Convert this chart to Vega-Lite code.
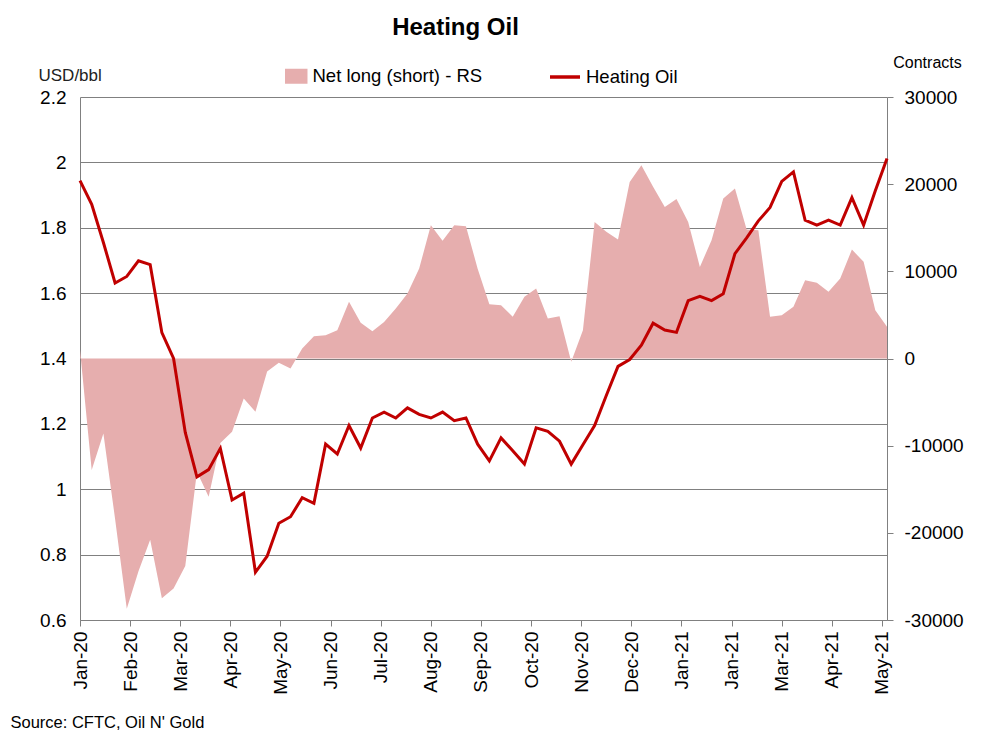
{
  "$schema": "https://vega.github.io/schema/vega-lite/v6.json",
  "width": 807,
  "height": 523,
  "autosize": {"type": "none"},
  "padding": {"left": 80, "top": 97, "right": 101, "bottom": 121},
  "background": "white",
  "config": {"view": {"stroke": null}, "font": "Liberation Sans"},
  "title": {"text": "Heating Oil", "fontSize": 24, "fontWeight": "bold", "font": "Liberation Sans", "color": "#000000", "anchor": "middle", "frame": "group", "dx": -28, "offset": 14},
  "data": {"values": [
    {"date": "2020-01-07", "price": 1.944, "net": 1000},
    {"date": "2020-01-14", "price": 1.872, "net": -12800},
    {"date": "2020-01-21", "price": 1.755, "net": -8600},
    {"date": "2020-01-28", "price": 1.631, "net": -18400},
    {"date": "2020-02-04", "price": 1.651, "net": -28700},
    {"date": "2020-02-11", "price": 1.699, "net": -24400},
    {"date": "2020-02-18", "price": 1.687, "net": -20800},
    {"date": "2020-02-25", "price": 1.479, "net": -27500},
    {"date": "2020-03-03", "price": 1.400, "net": -26400},
    {"date": "2020-03-10", "price": 1.174, "net": -23800},
    {"date": "2020-03-17", "price": 1.038, "net": -13000},
    {"date": "2020-03-24", "price": 1.060, "net": -15850},
    {"date": "2020-03-31", "price": 1.125, "net": -9700},
    {"date": "2020-04-07", "price": 0.967, "net": -8400},
    {"date": "2020-04-14", "price": 0.988, "net": -4600},
    {"date": "2020-04-21", "price": 0.746, "net": -6100},
    {"date": "2020-04-28", "price": 0.795, "net": -1500},
    {"date": "2020-05-05", "price": 0.896, "net": -500},
    {"date": "2020-05-12", "price": 0.916, "net": -1150},
    {"date": "2020-05-19", "price": 0.974, "net": 1150},
    {"date": "2020-05-26", "price": 0.957, "net": 2560},
    {"date": "2020-06-02", "price": 1.138, "net": 2680},
    {"date": "2020-06-09", "price": 1.108, "net": 3250},
    {"date": "2020-06-16", "price": 1.195, "net": 6500},
    {"date": "2020-06-23", "price": 1.126, "net": 4090},
    {"date": "2020-06-30", "price": 1.218, "net": 3130},
    {"date": "2020-07-07", "price": 1.236, "net": 4200},
    {"date": "2020-07-14", "price": 1.218, "net": 5730},
    {"date": "2020-07-21", "price": 1.249, "net": 7450},
    {"date": "2020-07-28", "price": 1.229, "net": 10320},
    {"date": "2020-08-04", "price": 1.218, "net": 15290},
    {"date": "2020-08-11", "price": 1.236, "net": 13500},
    {"date": "2020-08-18", "price": 1.210, "net": 15290},
    {"date": "2020-08-25", "price": 1.218, "net": 15180},
    {"date": "2020-09-01", "price": 1.138, "net": 10300},
    {"date": "2020-09-08", "price": 1.087, "net": 6230},
    {"date": "2020-09-15", "price": 1.157, "net": 6120},
    {"date": "2020-09-22", "price": 1.118, "net": 4780},
    {"date": "2020-09-29", "price": 1.077, "net": 7070},
    {"date": "2020-10-06", "price": 1.188, "net": 8030},
    {"date": "2020-10-13", "price": 1.177, "net": 4590},
    {"date": "2020-10-20", "price": 1.147, "net": 4860},
    {"date": "2020-10-27", "price": 1.077, "net": -380},
    {"date": "2020-11-03", "price": 1.136, "net": 3250},
    {"date": "2020-11-10", "price": 1.195, "net": 15670},
    {"date": "2020-11-17", "price": 1.287, "net": 14530},
    {"date": "2020-11-24", "price": 1.376, "net": 13650},
    {"date": "2020-12-01", "price": 1.397, "net": 20260},
    {"date": "2020-12-08", "price": 1.441, "net": 22170},
    {"date": "2020-12-15", "price": 1.508, "net": 19690},
    {"date": "2020-12-22", "price": 1.487, "net": 17390},
    {"date": "2020-12-29", "price": 1.480, "net": 18300},
    {"date": "2021-01-05", "price": 1.577, "net": 15670},
    {"date": "2021-01-12", "price": 1.590, "net": 10510},
    {"date": "2021-01-19", "price": 1.577, "net": 13570},
    {"date": "2021-01-26", "price": 1.598, "net": 18350},
    {"date": "2021-02-02", "price": 1.721, "net": 19500},
    {"date": "2021-02-09", "price": 1.769, "net": 14800},
    {"date": "2021-02-16", "price": 1.821, "net": 14720},
    {"date": "2021-02-23", "price": 1.862, "net": 4780},
    {"date": "2021-03-02", "price": 1.942, "net": 4970},
    {"date": "2021-03-09", "price": 1.971, "net": 5930},
    {"date": "2021-03-16", "price": 1.823, "net": 8980},
    {"date": "2021-03-23", "price": 1.808, "net": 8680},
    {"date": "2021-03-30", "price": 1.823, "net": 7650},
    {"date": "2021-04-06", "price": 1.808, "net": 9180},
    {"date": "2021-04-13", "price": 1.892, "net": 12500},
    {"date": "2021-04-20", "price": 1.808, "net": 11090},
    {"date": "2021-04-27", "price": 1.913, "net": 5540},
    {"date": "2021-05-04", "price": 2.012, "net": 3630}
  ]},
  "layer": [
    {
      "mark": {"type": "area", "interpolate": "linear"},
      "encoding": {
        "x": {
          "field": "date", "type": "temporal",
          "scale": {"type": "utc", "domain": [{"year": 2020, "month": 1, "date": 7, "utc": true}, {"year": 2021, "month": 5, "date": 4, "utc": true}]},
          "axis": {
            "values": [
              {"year": 2020, "month": 1, "date": 7, "utc": true},
              {"year": 2020, "month": 2, "date": 6, "utc": true},
              {"year": 2020, "month": 3, "date": 7, "utc": true},
              {"year": 2020, "month": 4, "date": 6, "utc": true},
              {"year": 2020, "month": 5, "date": 6, "utc": true},
              {"year": 2020, "month": 6, "date": 5, "utc": true},
              {"year": 2020, "month": 7, "date": 5, "utc": true},
              {"year": 2020, "month": 8, "date": 4, "utc": true},
              {"year": 2020, "month": 9, "date": 3, "utc": true},
              {"year": 2020, "month": 10, "date": 3, "utc": true},
              {"year": 2020, "month": 11, "date": 2, "utc": true},
              {"year": 2020, "month": 12, "date": 2, "utc": true},
              {"year": 2021, "month": 1, "date": 1, "utc": true},
              {"year": 2021, "month": 1, "date": 31, "utc": true},
              {"year": 2021, "month": 3, "date": 2, "utc": true},
              {"year": 2021, "month": 4, "date": 1, "utc": true},
              {"year": 2021, "month": 5, "date": 1, "utc": true}
            ],
            "labelExpr": "utcFormat(datum.value, '%b-%y')",
            "labelAngle": 270, "labelAlign": "right", "labelBaseline": "middle",
            "labelFontSize": 19, "labelColor": "#000000", "labelPadding": 5,
            "labelOverlap": false, "labelFlush": false,
            "grid": false, "domainColor": "#808080", "tickColor": "#808080", "tickSize": 6,
            "title": "Source: CFTC, Oil N' Gold",
            "titleX": -70, "titleY": 107, "titleAlign": "left", "titleBaseline": "alphabetic",
            "titleFontSize": 16.5, "titleFontWeight": "normal", "titleColor": "#000000"
          }
        },
        "y": {
          "field": "net", "type": "quantitative",
          "scale": {"domain": [-30000, 30000], "nice": false, "zero": true},
          "axis": {
            "orient": "right",
            "values": [-30000, -20000, -10000, 0, 10000, 20000, 30000],
            "labelExpr": "'' + datum.value", "grid": false,
            "domainColor": "#808080", "tickColor": "#808080", "tickSize": 6,
            "labelPadding": 11, "labelFontSize": 19, "labelColor": "#000000",
            "title": "Contracts", "titleAngle": 0, "titleX": 40, "titleY": -35,
            "titleAlign": "center", "titleBaseline": "middle",
            "titleFontSize": 16, "titleFontWeight": "normal", "titleColor": "#000000"
          }
        },
        "fill": {
          "datum": "Net long (short) - RS", "type": "nominal",
          "scale": {"range": ["#e6aeae"]},
          "legend": {
            "orient": "none", "legendX": 207, "legendY": -30, "direction": "horizontal",
            "title": null, "padding": 0, "labelLimit": 400,
            "symbolType": "M-1.5,-1H1.5V1H-1.5Z", "symbolSize": 225, "symbolStrokeWidth": 0,
            "labelFontSize": 18.5, "labelColor": "#000000", "labelOffset": 7
          }
        }
      }
    },
    {
      "mark": {"type": "line", "strokeWidth": 3, "interpolate": "linear"},
      "encoding": {
        "x": {"field": "date", "type": "temporal"},
        "y": {
          "field": "price", "type": "quantitative",
          "scale": {"domain": [0.6, 2.2], "nice": false, "zero": false},
          "axis": {
            "orient": "left",
            "values": [0.6, 0.8, 1, 1.2, 1.4, 1.6, 1.8, 2, 2.2],
            "format": "~g", "grid": true, "gridColor": "#808080", "gridWidth": 1,
            "domainColor": "#808080", "ticks": false,
            "labelPadding": 14, "labelFontSize": 19, "labelColor": "#000000",
            "title": "USD/bbl", "titleAngle": 0, "titleX": -42, "titleY": -22,
            "titleAlign": "left", "titleBaseline": "middle",
            "titleFontSize": 17, "titleFontWeight": "normal", "titleColor": "#222222"
          }
        },
        "stroke": {
          "datum": "Heating Oil", "type": "nominal",
          "scale": {"range": ["#c00000"]},
          "legend": {
            "orient": "none", "legendX": 468, "legendY": -37, "direction": "horizontal",
            "title": null, "padding": 0, "labelLimit": 400,
            "symbolType": "stroke", "symbolSize": 900, "symbolStrokeWidth": 3.5,
            "labelFontSize": 18.5, "labelColor": "#000000", "labelOffset": 4
          }
        }
      }
    }
  ],
  "resolve": {"scale": {"y": "independent"}}
}
